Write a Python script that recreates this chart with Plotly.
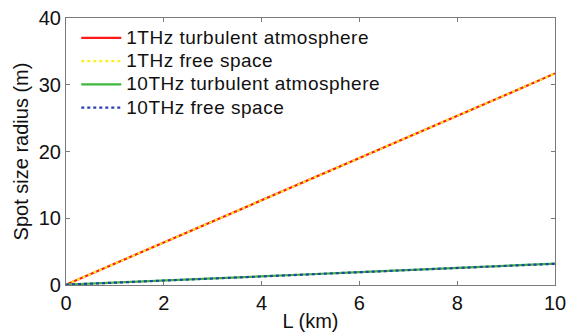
import plotly.graph_objects as go

# Propagation distance (km)
L_km = [0, 1, 2, 3, 4, 5, 6, 7, 8, 9, 10]

# Spot size radius (m) for each case
r_1thz_turb = [0.05, 3.2, 6.35, 9.5, 12.7, 15.85, 19.0, 22.2, 25.35, 28.5, 31.7]
r_1thz_free = [0.05, 3.18, 6.34, 9.5, 12.68, 15.84, 19.0, 22.18, 25.34, 28.5, 31.68]
r_10thz_turb = [0.05, 0.34, 0.66, 0.97, 1.29, 1.61, 1.92, 2.24, 2.56, 2.88, 3.2]
r_10thz_free = [0.05, 0.33, 0.65, 0.96, 1.28, 1.6, 1.91, 2.23, 2.55, 2.86, 3.18]

series_names = ["1THz turbulent atmosphere", "1THz free space",
                "10THz turbulent atmosphere", "10THz free space"]


def legend_label(text):
    # slightly larger, looser text than the legend's row height implies
    return '<span style="font-size:19px;letter-spacing:0.5px">' + text + "</span>"


fig = go.Figure()
fig.add_trace(go.Scatter(x=L_km, y=r_1thz_turb, mode="lines", name=legend_label(series_names[0]),
                         line=dict(color="#ff1a1a", width=2.2)))
fig.add_trace(go.Scatter(x=L_km, y=r_1thz_free, mode="lines", name=legend_label(series_names[1]),
                         line=dict(color="#ffee22", width=2.2, dash="dot")))
fig.add_trace(go.Scatter(x=L_km, y=r_10thz_turb, mode="lines", name=legend_label(series_names[2]),
                         line=dict(color="#3cb83c", width=2.2)))
fig.add_trace(go.Scatter(x=L_km, y=r_10thz_free, mode="lines", name=legend_label(series_names[3]),
                         line=dict(color="#2a3fb0", width=2.2, dash="dot")))

axis_common = dict(
    showgrid=False, zeroline=False, showline=True, mirror="ticks", automargin=False,
    linecolor="#7a7a7a", linewidth=1.2, ticks="inside", ticklen=4,
    tickcolor="#7a7a7a", tickfont=dict(size=20, color="#111"),
)

fig.update_layout(
    width=568, height=333,
    margin=dict(l=66, r=13, t=18, b=48),
    paper_bgcolor="white", plot_bgcolor="white",
    font=dict(family="Liberation Sans, Arial, sans-serif", color="#111"),
    xaxis=dict(range=[0, 10], dtick=2, title=dict(text="L (km)", font=dict(size=20), standoff=0),
               **axis_common),
    yaxis=dict(range=[0, 40], dtick=10, title=dict(text="Spot size radius (m)", font=dict(size=20), standoff=4),
               **axis_common),
    legend=dict(x=0.021, y=0.988, xanchor="left", yanchor="top", bgcolor="rgba(255,255,255,0)",
                font=dict(size=15.6), tracegroupgap=0, itemwidth=40),
    showlegend=True,
)

fig.write_html("out.html")
